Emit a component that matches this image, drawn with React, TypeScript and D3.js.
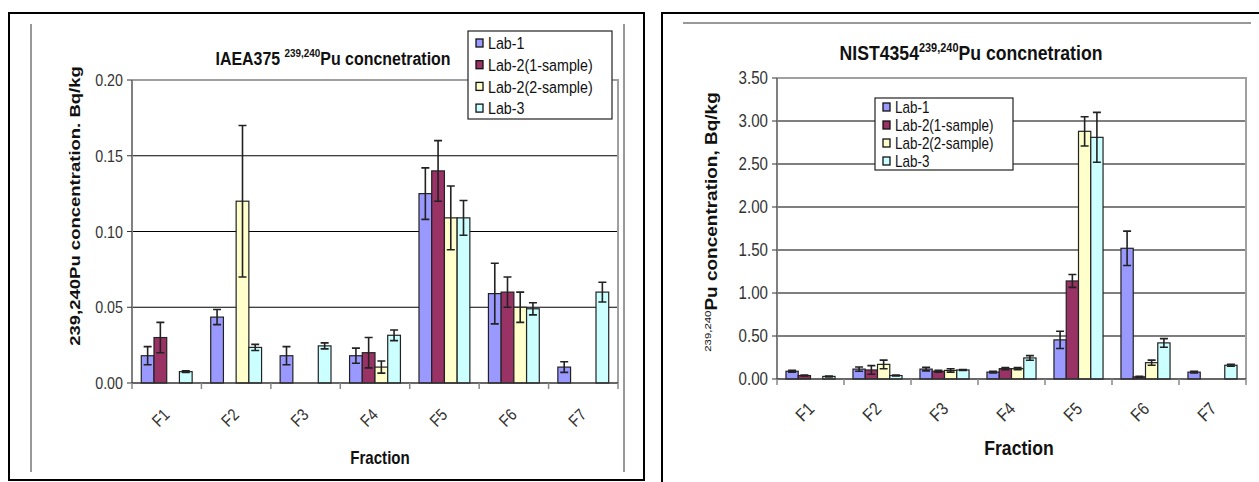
import { useEffect, useRef } from 'react'
import * as d3 from 'd3'

const fractions = ['F1', 'F2', 'F3', 'F4', 'F5', 'F6', 'F7']
const labs = ['Lab-1', 'Lab-2(1-sample)', 'Lab-2(2-sample)', 'Lab-3']
const labColors = ['#9999FF', '#993366', '#FFFFCC', '#CCFFFF']

// IAEA375 (Bq/kg); null = no bar
const iaeaLab1 = [0.018, 0.0435, 0.018, 0.018, 0.125, 0.059, 0.0105]
const iaeaLab1Err = [0.006, 0.005, 0.006, 0.005, 0.017, 0.02, 0.0035]
const iaeaLab2a = [0.03, null, null, 0.02, 0.14, 0.06, null]
const iaeaLab2aErr = [0.01, null, null, 0.01, 0.02, 0.01, null]
const iaeaLab2b = [null, 0.12, null, 0.0105, 0.109, 0.05, null]
const iaeaLab2bErr = [null, 0.05, null, 0.004, 0.021, 0.01, null]
const iaeaLab3 = [0.0075, 0.0235, 0.0245, 0.0315, 0.109, 0.049, 0.06]
const iaeaLab3Err = [0.0005, 0.002, 0.002, 0.0035, 0.0115, 0.004, 0.0065]
const iaeaTicks = [0, 0.05, 0.1, 0.15, 0.2]

// NIST4354 (Bq/kg)
const nistLab1 = [0.09, 0.115, 0.115, 0.08, 0.455, 1.52, 0.08]
const nistLab1Err = [0.01, 0.025, 0.02, 0.01, 0.1, 0.2, 0.01]
const nistLab2a = [0.04, 0.105, 0.09, 0.12, 1.14, 0.025, null]
const nistLab2aErr = [0.005, 0.05, 0.01, 0.012, 0.075, 0.005, null]
const nistLab2b = [null, 0.17, 0.1, 0.12, 2.88, 0.19, null]
const nistLab2bErr = [null, 0.05, 0.02, 0.012, 0.17, 0.03, null]
const nistLab3 = [0.03, 0.04, 0.105, 0.245, 2.81, 0.42, 0.16]
const nistLab3Err = [0.005, 0.005, 0.006, 0.027, 0.29, 0.05, 0.012]
const nistTicks = [0, 0.5, 1, 1.5, 2, 2.5, 3, 3.5]

type Series = { values: (number | null)[]; errs: (number | null)[] }

interface PanelCfg {
  series: Series[]
  ticks: number[]
  plot: { x0: number; x1: number; y0: number; y1: number }
  title: [string, string, string]
  titleX: number
  titleY: number
  titleSize: number
  yLabel: [string, string]
  yLabelX: number
  yLabelY: number
  yLabelSize: number
  legend: { x: number; y: number; w: number; h: number; first: number; row: number; size: number }
  fracX: number
  fracY: number
  fracSize: number
  tickSize: number
  catDx: number
  catDy: number
}

const FONT = '"Liberation Sans", Arial, sans-serif'
const SX = 0.84 // the source picture is squeezed sideways, text included

function drawPanel(svg: d3.Selection<SVGSVGElement, unknown, null, undefined>, c: PanelCfg) {
  const g = svg.append('g')
  const { x0, x1, y0, y1 } = c.plot

  const x = d3.scaleBand<string>().domain(fractions).range([x0, x1])
  const xi = d3.scaleBand<string>().domain(labs).range([0, x.bandwidth()]).paddingOuter(0.73)
  const y = d3.scaleLinear().domain([0, c.ticks[c.ticks.length - 1]]).range([y1, y0])

  // gridlines
  c.ticks.slice(1, -1).forEach((t) => {
    g.append('line')
      .attr('x1', x0).attr('x2', x1)
      .attr('y1', y(t)).attr('y2', y(t))
      .attr('stroke', '#000').attr('stroke-width', 1.2)
  })

  // plot area border (top + right), grey
  g.append('path')
    .attr('d', `M${x0},${y0}H${x1}V${y1}`)
    .attr('fill', 'none').attr('stroke', '#a0a0a0').attr('stroke-width', 2)

  // bars
  c.series.forEach((s, si) => {
    s.values.forEach((v, fi) => {
      if (v == null) return
      const bx = x(fractions[fi])! + xi(labs[si])!
      g.append('rect')
        .attr('x', bx).attr('y', y(v))
        .attr('width', xi.bandwidth()).attr('height', y(0) - y(v))
        .attr('fill', labColors[si]).attr('stroke', '#222').attr('stroke-width', 1.2)
    })
  })

  // error bars
  c.series.forEach((s, si) => {
    s.values.forEach((v, fi) => {
      const e = s.errs[fi]
      if (v == null || e == null) return
      const cx = x(fractions[fi])! + xi(labs[si])! + xi.bandwidth() / 2
      const ya = y(v + e), yb = y(Math.max(0, v - e))
      g.append('path')
        .attr('d', `M${cx},${ya}V${yb}M${cx - 4},${ya}H${cx + 4}M${cx - 4},${yb}H${cx + 4}`)
        .attr('fill', 'none').attr('stroke', '#222').attr('stroke-width', 1.6)
    })
  })

  // y axis
  g.append('line')
    .attr('x1', x0).attr('x2', x0).attr('y1', y0).attr('y2', y1)
    .attr('stroke', '#808080').attr('stroke-width', 2)
  c.ticks.forEach((t) => {
    g.append('line')
      .attr('x1', x0 - 5).attr('x2', x0).attr('y1', y(t)).attr('y2', y(t))
      .attr('stroke', '#333').attr('stroke-width', 1)
    g.append('text')
      .attr('transform', `translate(${x0 - 9},${y(t) + c.tickSize * 0.36}) scale(${SX},1)`)
      .attr('text-anchor', 'end')
      .style('font-family', FONT).style('font-size', `${c.tickSize}px`).style('fill', '#333')
      .text(t.toFixed(2))
  })

  // x axis
  g.append('line')
    .attr('x1', x0).attr('x2', x1).attr('y1', y1).attr('y2', y1)
    .attr('stroke', '#333').attr('stroke-width', 1.5)
  fractions.forEach((f) => {
    const bx = x(f)!
    g.append('line')
      .attr('x1', bx).attr('x2', bx).attr('y1', y1).attr('y2', y1 + 6)
      .attr('stroke', '#888').attr('stroke-width', 1.5)
    g.append('text')
      .attr('transform', `translate(${bx + x.bandwidth() / 2 + c.catDx},${y1 + c.catDy}) rotate(-45) scale(${SX},1)`)
      .attr('text-anchor', 'end')
      .style('font-family', FONT).style('font-size', `${c.tickSize}px`).style('fill', '#333')
      .text(f)
  })
  g.append('line')
    .attr('x1', x1).attr('x2', x1).attr('y1', y1).attr('y2', y1 + 6)
    .attr('stroke', '#888').attr('stroke-width', 1.5)

  // title
  const tt = g.append('text')
    .attr('transform', `translate(${c.titleX},${c.titleY}) scale(${SX},1)`)
    .attr('text-anchor', 'middle')
    .style('font-family', FONT).style('font-size', `${c.titleSize}px`)
    .style('font-weight', 'bold').style('fill', '#111')
  tt.append('tspan').text(c.title[0])
  tt.append('tspan').attr('dy', -c.titleSize * 0.4).style('font-size', `${c.titleSize * 0.62}px`)
    .text(c.title[1])
  tt.append('tspan').attr('dy', c.titleSize * 0.4).text(c.title[2])

  // y label (rotated: the sideways squeeze acts on glyph height)
  const yl = g.append('text')
    .attr('transform', `translate(${c.yLabelX},${c.yLabelY}) rotate(-90) scale(1,${SX})`)
    .attr('text-anchor', 'middle')
    .style('font-family', FONT).style('font-size', `${c.yLabelSize}px`)
    .style('font-weight', 'bold').style('fill', '#111')
  if (c.yLabel[0]) {
    yl.append('tspan').attr('dy', -7).style('font-size', `${c.yLabelSize * 0.6}px`)
      .style('font-weight', 'normal').text(c.yLabel[0])
    yl.append('tspan').attr('dy', 7).text(c.yLabel[1])
  } else {
    yl.text(c.yLabel[1])
  }

  // x title
  g.append('text')
    .attr('transform', `translate(${c.fracX},${c.fracY}) scale(${SX},1)`)
    .attr('text-anchor', 'middle')
    .style('font-family', FONT).style('font-size', `${c.fracSize}px`)
    .style('font-weight', 'bold').style('fill', '#111')
    .text('Fraction')

  // legend
  const L = c.legend
  g.append('rect')
    .attr('x', L.x).attr('y', L.y).attr('width', L.w).attr('height', L.h)
    .attr('fill', '#fff').attr('stroke', '#222').attr('stroke-width', 1.2)
  labs.forEach((lab, i) => {
    const ry = L.y + L.first + L.row * i
    g.append('rect')
      .attr('x', L.x + 8).attr('y', ry - 4).attr('width', 7).attr('height', 8)
      .attr('fill', labColors[i]).attr('stroke', '#111').attr('stroke-width', 1.3)
    g.append('text')
      .attr('transform', `translate(${L.x + 20},${ry + L.size * 0.36}) scale(${SX},1)`)
      .style('font-family', FONT).style('font-size', `${L.size}px`).style('fill', '#111')
      .text(lab)
  })
}

export default function App() {
  const ref = useRef<SVGSVGElement>(null)

  useEffect(() => {
    if (!ref.current) return
    const svg = d3.select(ref.current)
    svg.selectAll('*').remove()

    // ── left panel frame ─────────────────────────────
    svg.append('rect').attr('x', 9).attr('y', 13).attr('width', 635).attr('height', 467)
      .attr('fill', '#fff').attr('stroke', '#000').attr('stroke-width', 2)
    ;[31, 624].forEach((lx) => {
      svg.append('line').attr('x1', lx).attr('x2', lx).attr('y1', 24).attr('y2', 472)
        .attr('stroke', '#333').attr('stroke-width', 1)
    })

    // ── right panel frame ────────────────────────────
    svg.append('rect').attr('x', 662).attr('y', 13).attr('width', 620).attr('height', 490)
      .attr('fill', '#fff').attr('stroke', '#000').attr('stroke-width', 2)
    svg.append('line').attr('x1', 683).attr('x2', 1251).attr('y1', 23).attr('y2', 23)
      .attr('stroke', '#333').attr('stroke-width', 1)

    drawPanel(svg, {
      series: [
        { values: iaeaLab1, errs: iaeaLab1Err },
        { values: iaeaLab2a, errs: iaeaLab2aErr },
        { values: iaeaLab2b, errs: iaeaLab2bErr },
        { values: iaeaLab3, errs: iaeaLab3Err },
      ],
      ticks: iaeaTicks,
      plot: { x0: 132, x1: 618, y0: 80, y1: 383 },
      title: ['IAEA375 ', '239,240', 'Pu concnetration'],
      titleX: 333,
      titleY: 65,
      titleSize: 19,
      yLabel: ['', '239,240Pu concentration. Bq/kg'],
      yLabelX: 80,
      yLabelY: 206,
      yLabelSize: 18.5,
      legend: { x: 468, y: 31, w: 144, h: 88, first: 12, row: 21.7, size: 17 },
      fracX: 380,
      fracY: 464,
      fracSize: 18,
      tickSize: 17,
      catDx: 4,
      catDy: 33,
    })

    drawPanel(svg, {
      series: [
        { values: nistLab1, errs: nistLab1Err },
        { values: nistLab2a, errs: nistLab2aErr },
        { values: nistLab2b, errs: nistLab2bErr },
        { values: nistLab3, errs: nistLab3Err },
      ],
      ticks: nistTicks,
      plot: { x0: 777, x1: 1246, y0: 78, y1: 379 },
      title: ['NIST4354', '239,240', 'Pu concnetration'],
      titleX: 971,
      titleY: 60,
      titleSize: 21,
      yLabel: ['239,240', 'Pu concentration,  Bq/kg'],
      yLabelX: 717,
      yLabelY: 222,
      yLabelSize: 19,
      legend: { x: 875, y: 98, w: 138, h: 72, first: 9, row: 18, size: 16 },
      fracX: 1019,
      fracY: 455,
      fracSize: 21,
      tickSize: 18,
      catDx: 5,
      catDy: 31,
    })
  }, [])

  return (
    <svg
      ref={ref}
      width={1259}
      height={482}
      style={{ position: 'absolute', left: 0, top: 0, background: '#fff' }}
    />
  )
}
